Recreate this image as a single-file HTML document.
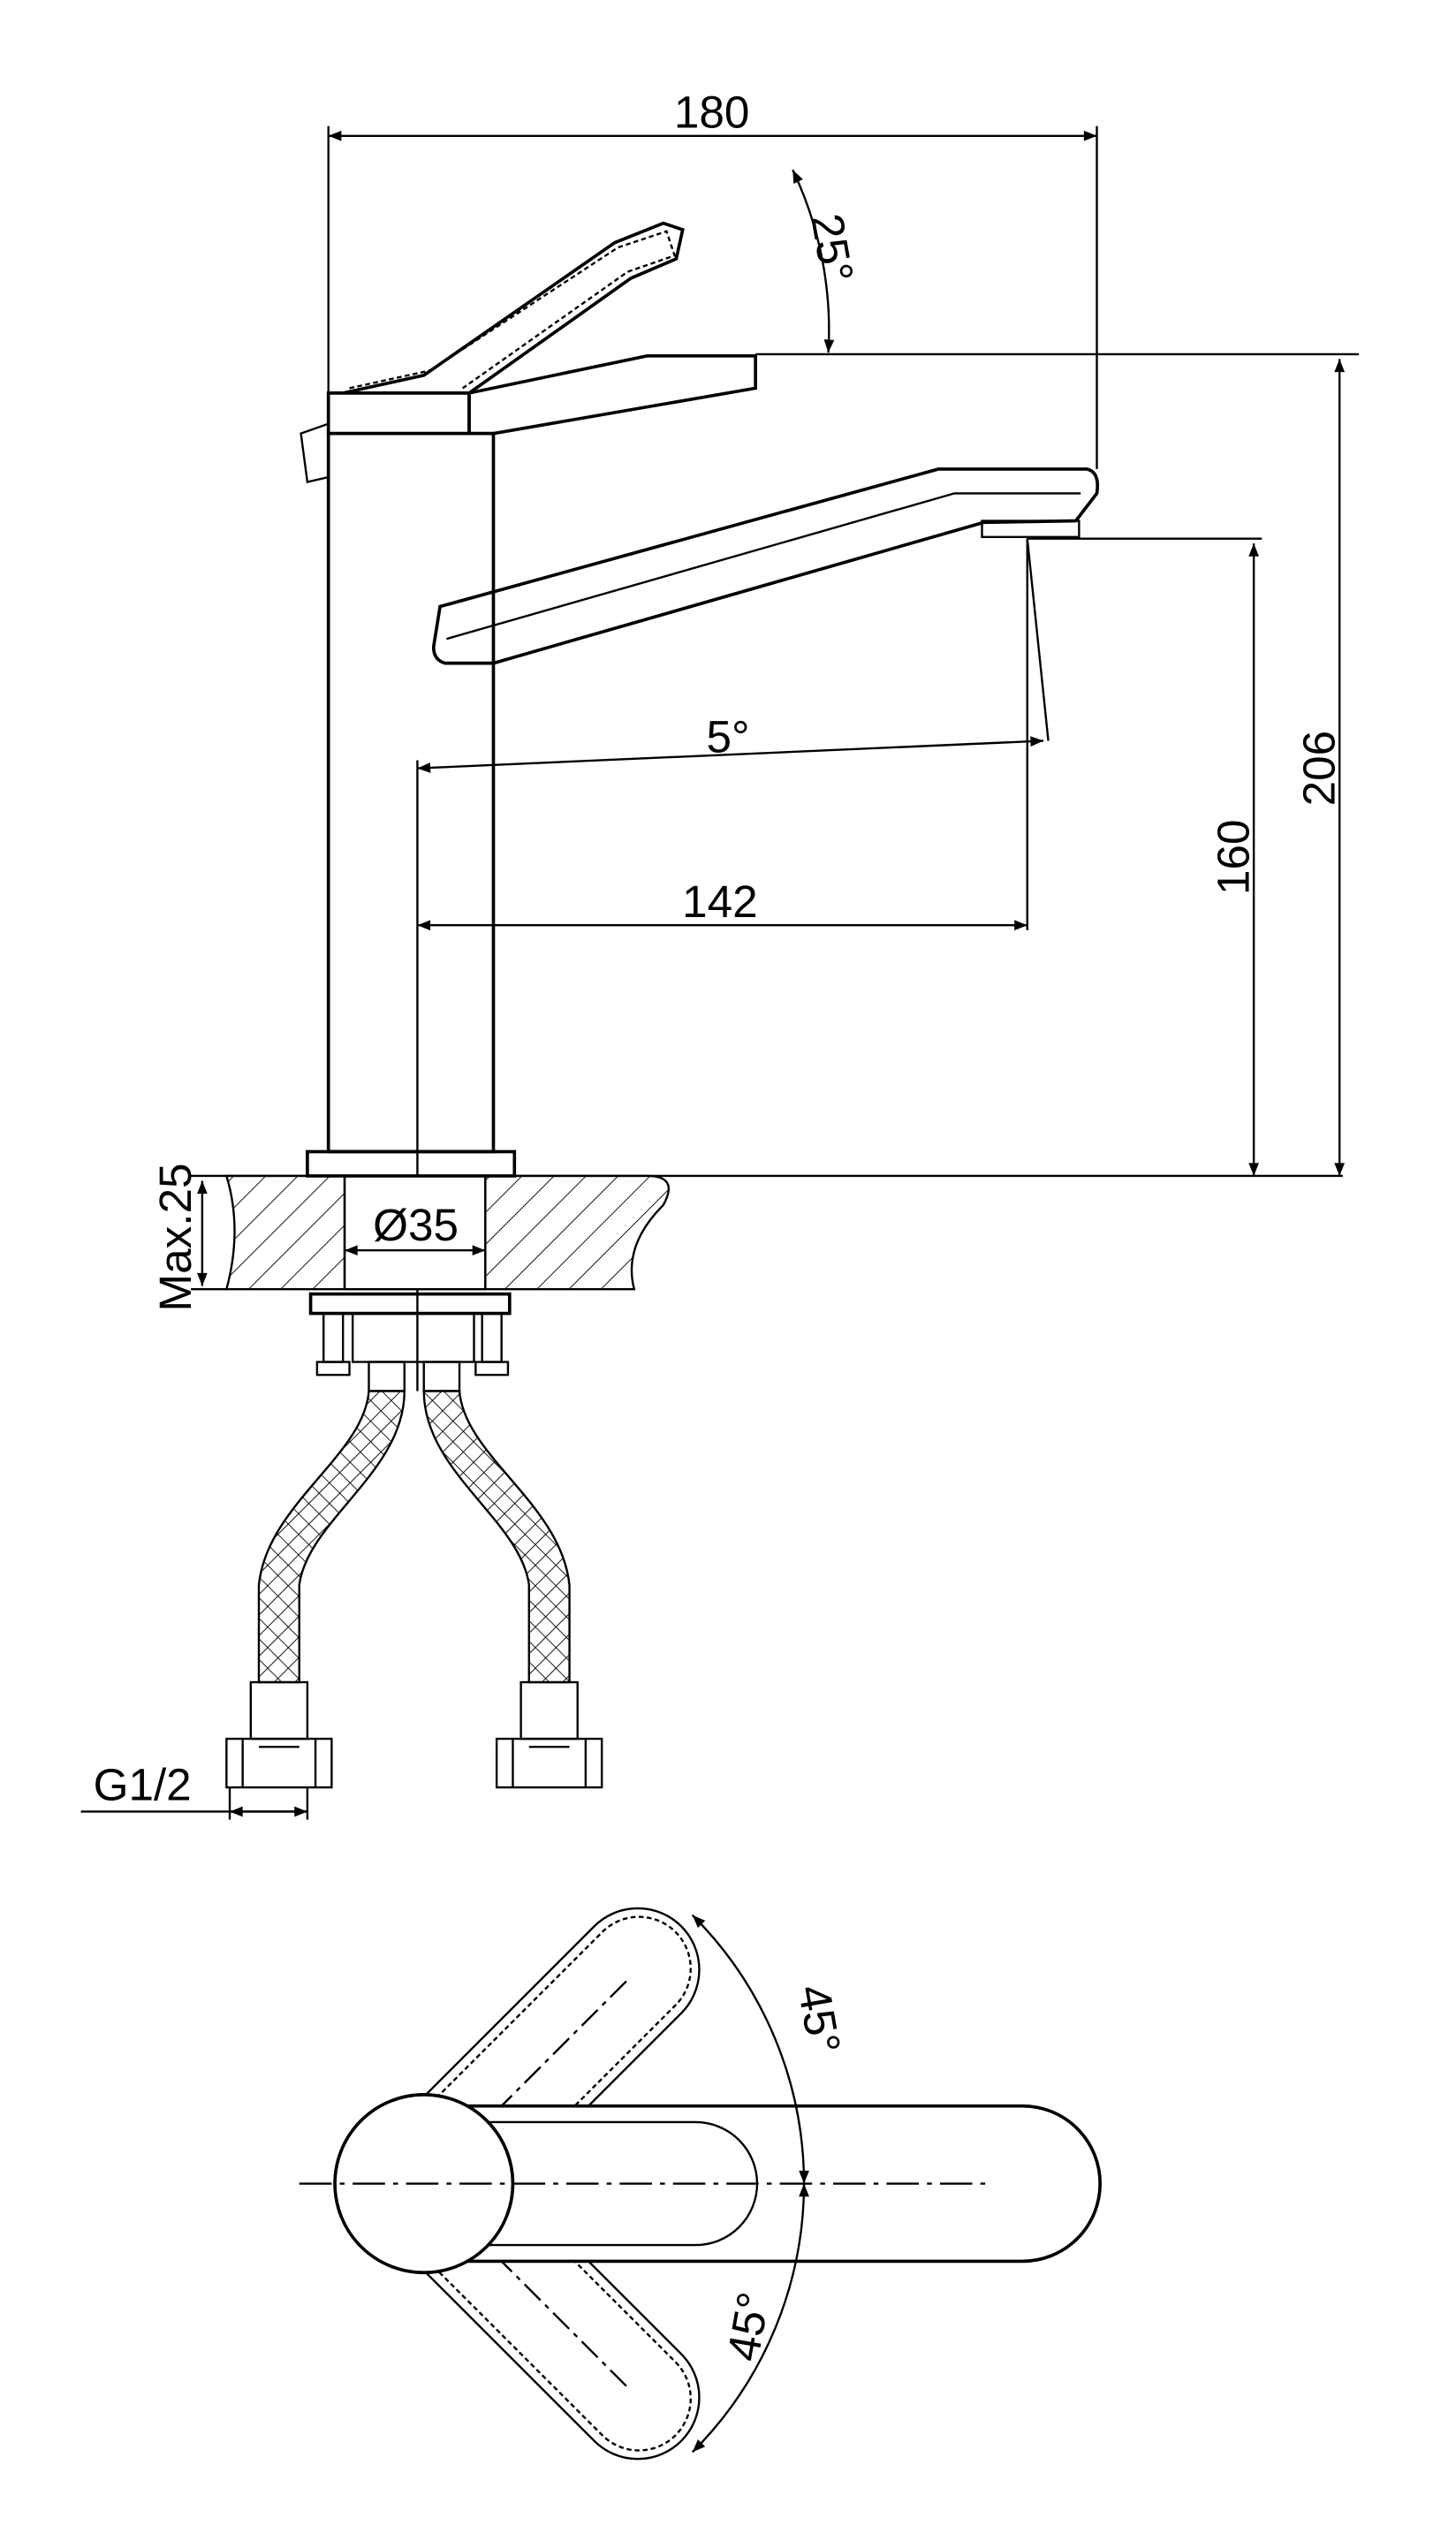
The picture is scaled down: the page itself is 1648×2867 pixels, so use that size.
<!DOCTYPE html>
<html><head><style>html,body{margin:0;padding:0;background:#fff}svg{display:block}text{font-family:"Liberation Sans",sans-serif;fill:#000}</style></head><body>
<svg width="1648" height="2867" viewBox="0 0 900 1566" preserveAspectRatio="none" xmlns="http://www.w3.org/2000/svg">
<defs>
<pattern id="h" width="14" height="14" patternUnits="userSpaceOnUse" patternTransform="rotate(45)"><line x1="0" y1="0" x2="0" y2="14" stroke="#000" stroke-width="1"/></pattern>
<pattern id="x" width="9" height="9" patternUnits="userSpaceOnUse" patternTransform="rotate(45)"><path d="M0 0H9M0 0V9" stroke="#000" stroke-width="1" fill="none"/></pattern>
<marker id="a" viewBox="0 0 10 10" refX="10" refY="5" markerWidth="14" markerHeight="8" orient="auto-start-reverse" markerUnits="userSpaceOnUse"><path d="M0 1L10 5L0 9z" fill="#000"/></marker>
</defs>
<g fill="none" stroke="#000" stroke-width="1.3">
<line x1="203" y1="84" x2="678" y2="84" marker-start="url(#a)" marker-end="url(#a)"/>
<line x1="203" y1="78" x2="203" y2="245"/><line x1="678" y1="78" x2="678" y2="290"/>
<rect x="203" y="268" width="102" height="444" stroke-width="2"/>
<path d="M203 243H290V268H203Z" stroke-width="2"/>
<path d="M290 243L400 220H467V240L305 268H290Z" stroke-width="2"/>
<path d="M186 268L203 262V295L190 298Z"/>
<!-- raised handle -->
<path d="M212 243L262 232L380 150L410 138L422 142L418 160L390 172L290 243" stroke-width="2"/>
<path d="M216 240L266 229L382 153L412 143L417 158L388 168L286 240" stroke-dasharray="3 2"/>
<path d="M490 105A230 230 0 0 1 512 218" marker-start="url(#a)" marker-end="url(#a)"/>
<line x1="467" y1="219" x2="840" y2="219"/>
<line x1="828" y1="222" x2="828" y2="727" marker-start="url(#a)" marker-end="url(#a)"/>
<path d="M272 375L580 290H672Q680 292 678 305L665 322L608 323L305 410H275Q268 408 268 400Z" stroke-width="2"/>
<path d="M276 395L590 305H668" />
<rect x="607" y="322" width="60" height="10"/>
<line x1="635" y1="333" x2="780" y2="333"/>
<line x1="775" y1="336" x2="775" y2="727" marker-start="url(#a)" marker-end="url(#a)"/>
<line x1="258" y1="475" x2="645" y2="458" marker-start="url(#a)" marker-end="url(#a)"/>
<line x1="635" y1="333" x2="648" y2="458"/>
<line x1="635" y1="333" x2="635" y2="575"/>
<line x1="258" y1="572" x2="635" y2="572" marker-start="url(#a)" marker-end="url(#a)"/>
<line x1="258" y1="470" x2="258" y2="860"/>
<line x1="118" y1="727" x2="830" y2="727"/>
<path d="M140 727H400Q420 727 410 745Q385 770 392 797H140Q150 760 140 727Z" fill="url(#h)"/>
<rect x="213" y="727" width="87" height="70" fill="#fff"/>
<line x1="213" y1="727" x2="213" y2="797"/><line x1="300" y1="727" x2="300" y2="797"/>
<line x1="118" y1="797" x2="140" y2="797"/>
<line x1="125" y1="730" x2="125" y2="795" marker-start="url(#a)" marker-end="url(#a)"/>
<line x1="213" y1="773" x2="300" y2="773" marker-start="url(#a)" marker-end="url(#a)"/>
<rect x="190" y="712" width="128" height="15" stroke-width="2"/>
<rect x="192" y="800" width="123" height="12" stroke-width="2"/>
<rect x="218" y="812" width="75" height="30"/>
<rect x="200" y="812" width="12" height="30"/><rect x="298" y="812" width="12" height="30"/>
<path d="M196 842H216V850H196Z M294 842H314V850H294Z"/>
<rect x="228" y="842" width="22" height="18"/><rect x="262" y="842" width="22" height="18"/>
<path d="M228 860C225 900 165 930 160 980V1040H185V980C190 940 250 910 250 860Z" fill="url(#x)"/>
<path d="M284 860C287 900 347 930 352 980V1040H327V980C322 940 262 910 262 860Z" fill="url(#x)"/>
<rect x="155" y="1040" width="35" height="35"/><rect x="322" y="1040" width="35" height="35"/>
<path d="M140 1075H205V1105H140Z M150 1075V1105M195 1075V1105M160 1080H185"/>
<path d="M307 1075H372V1105H307Z M317 1075V1105M362 1075V1105M327 1080H352"/>
<line x1="50" y1="1120" x2="190" y2="1120"/>
<line x1="142" y1="1105" x2="142" y2="1125"/><line x1="190" y1="1105" x2="190" y2="1125"/>
<line x1="142" y1="1120" x2="190" y2="1120" marker-start="url(#a)" marker-end="url(#a)"/>
<g transform="rotate(-45 262 1350)"><rect x="262" y="1312" width="225" height="76" rx="38"/><rect x="268" y="1318" width="214" height="64" rx="32" stroke-dasharray="3 2"/><line x1="300" y1="1350" x2="440" y2="1350" stroke-dasharray="14 4 3 4"/></g>
<g transform="rotate(45 262 1350)"><rect x="262" y="1312" width="225" height="76" rx="38"/><rect x="268" y="1318" width="214" height="64" rx="32" stroke-dasharray="3 2"/><line x1="300" y1="1350" x2="440" y2="1350" stroke-dasharray="14 4 3 4"/></g>
<path d="M262 1302H632A48 48 0 0 1 632 1398H262Z" fill="#fff" stroke="none"/>
<path d="M262 1302H632A48 48 0 0 1 632 1398H262" stroke-width="2"/>
<path d="M300 1312H430A38 38 0 0 1 430 1388H300" />
<circle cx="262" cy="1350" r="55" fill="#fff" stroke-width="2"/>
<line x1="185" y1="1350" x2="612" y2="1350" stroke-dasharray="20 5 3 5"/>
<path d="M428 1184A235 235 0 0 1 497 1350" marker-start="url(#a)" marker-end="url(#a)"/>
<path d="M497 1350A235 235 0 0 1 428 1516" marker-start="url(#a)" marker-end="url(#a)"/>
</g>
<g font-size="28">
<text x="440" y="79" text-anchor="middle">180</text>
<text transform="translate(505,155) rotate(80)" text-anchor="middle">25°</text>
<text transform="translate(825,475) rotate(-90)" text-anchor="middle">206</text>
<text transform="translate(772,530) rotate(-90)" text-anchor="middle">160</text>
<text x="450" y="465" text-anchor="middle">5°</text>
<text x="445" y="567" text-anchor="middle">142</text>
<text x="257" y="767" text-anchor="middle">Ø35</text>
<text transform="translate(118,765) rotate(-90)" text-anchor="middle">Max.25</text>
<text x="88" y="1113" text-anchor="middle">G1/2</text>
<text transform="translate(497,1250) rotate(80)" text-anchor="middle">45°</text>
<text transform="translate(472,1440) rotate(-80)" text-anchor="middle">45°</text>
</g>
</svg>
</body></html>
